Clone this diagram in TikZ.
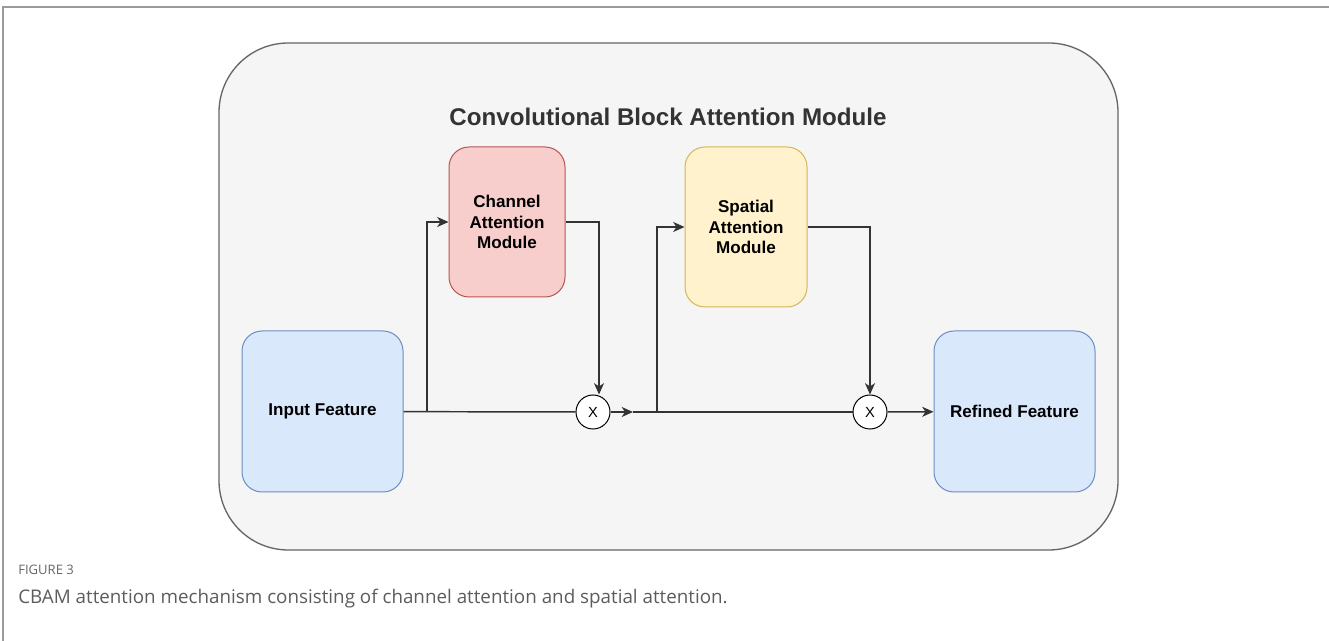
\documentclass[tikz,border=0pt]{standalone}
\usepackage{fontspec}
\setmainfont{Liberation Sans}
\newfontfamily\capfont{Open Sans}
\usetikzlibrary{arrows.meta}
\definecolor{pagegray}{HTML}{9A9A9A}
\definecolor{boxgray}{HTML}{F5F5F5}
\definecolor{edgegray}{HTML}{666666}
\definecolor{linegray}{HTML}{333333}
\definecolor{chfill}{HTML}{F8CECC}
\definecolor{chdraw}{HTML}{B85450}
\definecolor{spfill}{HTML}{FFF2CC}
\definecolor{spdraw}{HTML}{D6B656}
\definecolor{ftfill}{HTML}{DAE8FC}
\definecolor{ftdraw}{HTML}{6C8EBF}
\tikzset{
  module/.style={rounded corners=15pt,line width=.75pt,align=center,
    font=\fontsize{12.8}{15.5}\selectfont\bfseries},
  feature/.style={module,fill=ftfill,draw=ftdraw,minimum width=120.75pt,minimum height=120.75pt},
  mult/.style={circle,draw=black,fill=white,line width=.75pt,minimum size=25.5pt,inner sep=0pt,
    font=\fontsize{11}{12}\selectfont},
  flow/.style={draw=linegray,line width=1.1pt},
}
\begin{document}
\begin{tikzpicture}[x=.75pt,y=-.75pt,>={Stealth[length=8.5pt,width=7.5pt,inset=2.5pt]}]
\useasboundingbox (0,0) rectangle (1329,641);
\draw[pagegray,line width=1.5pt] (3,641)--(3,7)--(1329,7);
\node[fill=boxgray,draw=edgegray,line width=1pt,rounded corners=52pt,
  minimum width=674.25pt,minimum height=380.25pt] (cbam) at (668.5,296.5) {};
\node[font=\fontsize{18.1}{20}\selectfont\bfseries,text=linegray] (title) at (668,117) {Convolutional Block Attention Module};
\node[feature] (in) at (322.5,411.5) {Input Feature};
\node[feature] (rf) at (1014.5,411.5) {Refined Feature};
\node[module,fill=chfill,draw=chdraw,minimum width=87pt,minimum height=112.5pt] (ch) at (507,222) {Channel\\Attention\\Module};
\node[module,fill=spfill,draw=spdraw,minimum width=91.5pt,minimum height=120pt] (sp) at (746,227) {Spatial\\Attention\\Module};
\node[mult] (x1) at (593,412) {X};
\node[mult] (x2) at (870,412) {X};
\coordinate (b1) at (427,412);
\coordinate (b2) at (657,412);
\coordinate (mid) at (633,412);
\draw[flow] (in)--(x1);
\draw[flow,->] (b1)|-(ch);
\draw[flow,->] (ch)-|([xshift=4.5pt]x1.north);
\draw[flow,->] (x1)--(mid);
\draw[flow] (mid)--(x2);
\draw[flow,->] (b2)|-(sp);
\draw[flow,->] (sp)-|(x2);
\draw[flow,->] (x2)--(rf);
\node[anchor=base west,inner sep=0pt,text=edgegray,font=\capfont\fontsize{9.8}{11}\selectfont] (fig) at (18,575) {FIGURE 3};
\node[anchor=base west,inner sep=0pt,text=edgegray!90!black,font=\capfont\fontsize{14.1}{16}\selectfont] (cap) at (18,604) {CBAM attention mechanism consisting of channel attention and spatial attention.};
\end{tikzpicture}
\end{document}
